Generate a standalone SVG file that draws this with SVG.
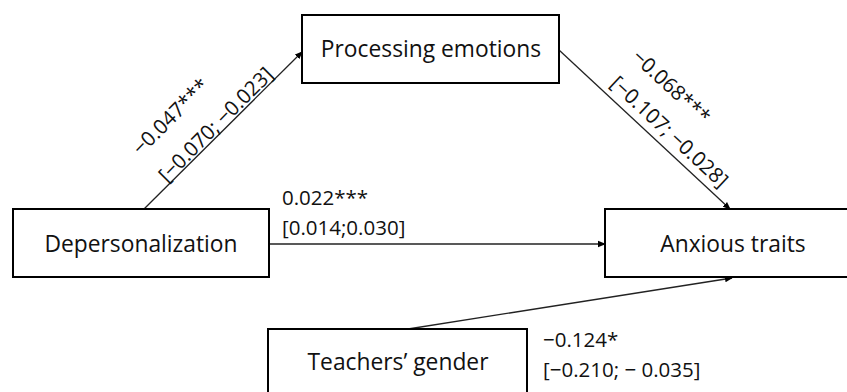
<svg xmlns="http://www.w3.org/2000/svg" width="847" height="392" viewBox="0 0 847 392">
<defs>
<style>
.box{fill:#fff;stroke:#000;stroke-width:2}
.node{font-family:"Open Sans","Liberation Sans",sans-serif;font-size:22.8px;fill:#111;text-anchor:middle}
.lbl{font-family:"Open Sans","Liberation Sans",sans-serif;font-size:20.5px;fill:#111}
.conn{stroke:#222;stroke-width:1.3;fill:none;marker-end:url(#ah)}
</style>
<marker id="ah" markerWidth="8" markerHeight="8" refX="7" refY="4" orient="auto" markerUnits="userSpaceOnUse">
<path d="M0,0.8 L8,4 L0,7.2 Z" fill="#000"/>
</marker>
</defs>
<rect width="847" height="392" fill="#fff"/>
<g id="connectors">
<line class="conn" x1="144" y1="209" x2="302" y2="52"/>
<line class="conn" x1="559" y1="50" x2="730" y2="209"/>
<line class="conn" x1="269" y1="244" x2="605" y2="244"/>
<line class="conn" x1="408" y1="329" x2="732" y2="278"/>
</g>
<g id="processing-emotions">
<rect class="box" x="302" y="15" width="257" height="68"/>
<text class="node" x="431" y="57">Processing emotions</text>
</g>
<g id="depersonalization">
<rect class="box" x="13" y="209" width="256" height="68"/>
<text class="node" x="141" y="252">Depersonalization</text>
</g>
<g id="anxious-traits">
<rect class="box" x="605" y="209" width="250" height="68"/>
<text class="node" x="733" y="252">Anxious traits</text>
</g>
<g id="teachers-gender">
<rect class="box" x="268" y="329" width="259" height="80"/>
<text class="node" x="398" y="370">Teachers’ gender</text>
</g>
<g id="labels">
<text class="lbl" text-anchor="middle" dominant-baseline="central" transform="translate(170,116) rotate(-45)">−0.047***</text>
<text class="lbl" text-anchor="middle" dominant-baseline="central" transform="translate(215,124) rotate(-45)">[−0.070; −0.023]</text>
<text class="lbl" text-anchor="middle" dominant-baseline="central" transform="translate(672,86) rotate(43)">−0.068***</text>
<text class="lbl" text-anchor="middle" dominant-baseline="central" transform="translate(670,131) rotate(43)">[−0.107; −0.028]</text>
<text class="lbl" x="282" y="205">0.022***</text>
<text class="lbl" x="282" y="235">[0.014;0.030]</text>
<text class="lbl" x="543" y="347">−0.124*</text>
<text class="lbl" x="543" y="377">[−0.210; − 0.035]</text>
</g>
</svg>
